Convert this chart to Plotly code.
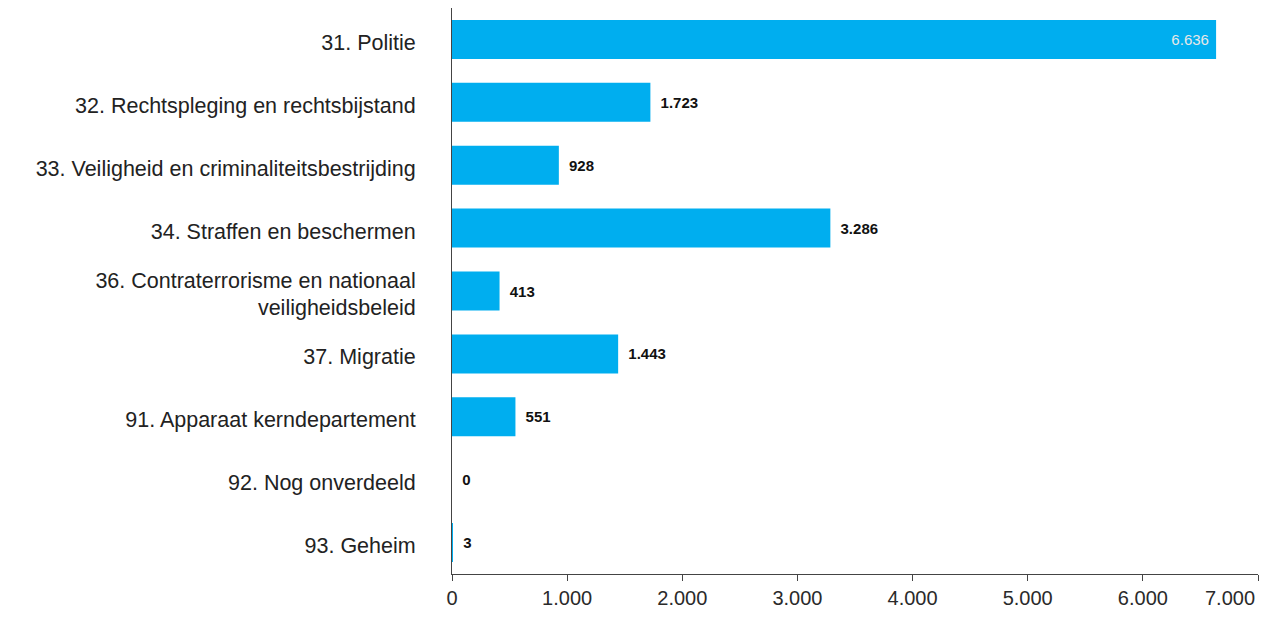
import plotly.graph_objects as go

categories = [
    "31. Politie",
    "32. Rechtspleging en rechtsbijstand",
    "33. Veiligheid en criminaliteitsbestrijding",
    "34. Straffen en beschermen",
    "36. Contraterrorisme en nationaal<br>veiligheidsbeleid",
    "37. Migratie",
    "91. Apparaat kerndepartement",
    "92. Nog onverdeeld",
    "93. Geheim",
]
values = [6636, 1723, 928, 3286, 413, 1443, 551, 0, 3]
tick_vals = [0, 1000, 2000, 3000, 4000, 5000, 6000, 7000]
tick_text = ["0", "1.000", "2.000", "3.000", "4.000", "5.000", "6.000", "7.000"]

FONT = "Liberation Sans, Arial, sans-serif"
NB = "\u00a0"
X_RANGE = [0, 7000]


def fmt(v):
    return f"{v:,}".replace(",", ".")


texts = []
positions = []
colors = []
for i, v in enumerate(values):
    if i == 0:
        texts.append(fmt(v) + NB)
        positions.append("inside")
        colors.append("#e8e8e8")
    else:
        texts.append(NB + "\u2009" + f"<b>{fmt(v)}</b>")
        positions.append("outside")
        colors.append("#111111")

# main axis: all labels except the last; the last one is drawn on an overlaid
# axis shifted left so it stays inside the page (right-aligned as in the reference)
main_text = list(tick_text[:-1]) + [""]

fig = go.Figure(
    go.Bar(
        x=values,
        y=categories,
        orientation="h",
        marker=dict(color="#00AEEF", line=dict(width=0)),
        text=texts,
        textposition=positions,
        insidetextanchor="end",
        textangle=0,
        constraintext="none",
        textfont=dict(color=colors, size=15, family=FONT),
        cliponaxis=False,
        hoverinfo="skip",
    )
)
fig.add_trace(
    go.Scatter(x=[], y=[], xaxis="x2", yaxis="y", showlegend=False, hoverinfo="skip")
)

fig.update_layout(
    width=1260,
    height=611,
    margin=dict(l=444, r=10, t=0, b=45, autoexpand=False),
    paper_bgcolor="white",
    plot_bgcolor="white",
    bargap=0.38,
    showlegend=False,
    font=dict(family=FONT, color="#222222"),
    xaxis=dict(
        range=X_RANGE,
        tickvals=tick_vals,
        ticktext=main_text,
        showgrid=False,
        zeroline=False,
        showline=True,
        linecolor="#444444",
        linewidth=1,
        ticks="outside",
        ticklen=6,
        tickcolor="#444444",
        tickfont=dict(size=20, color="#2a2a2a"),
        automargin=False,
    ),
    xaxis2=dict(
        overlaying="x",
        anchor="y",
        side="bottom",
        range=X_RANGE,
        tickvals=tick_vals[-1:],
        ticktext=tick_text[-1:],
        ticklabelshift=-28,
        showgrid=False,
        zeroline=False,
        showline=False,
        ticks="outside",
        ticklen=6,
        tickcolor="rgba(0,0,0,0)",
        tickfont=dict(size=20, color="#2a2a2a"),
        automargin=False,
    ),
    yaxis=dict(
        categoryorder="array",
        categoryarray=categories,
        autorange="reversed",
        showgrid=False,
        zeroline=False,
        showline=True,
        linecolor="#444444",
        linewidth=1,
        ticks="",
        ticklabelstandoff=31,
        ticklabelshift=-3,
        tickfont=dict(size=21.5, color="#222222"),
        automargin=False,
    ),
)

fig.write_html("out.html")
